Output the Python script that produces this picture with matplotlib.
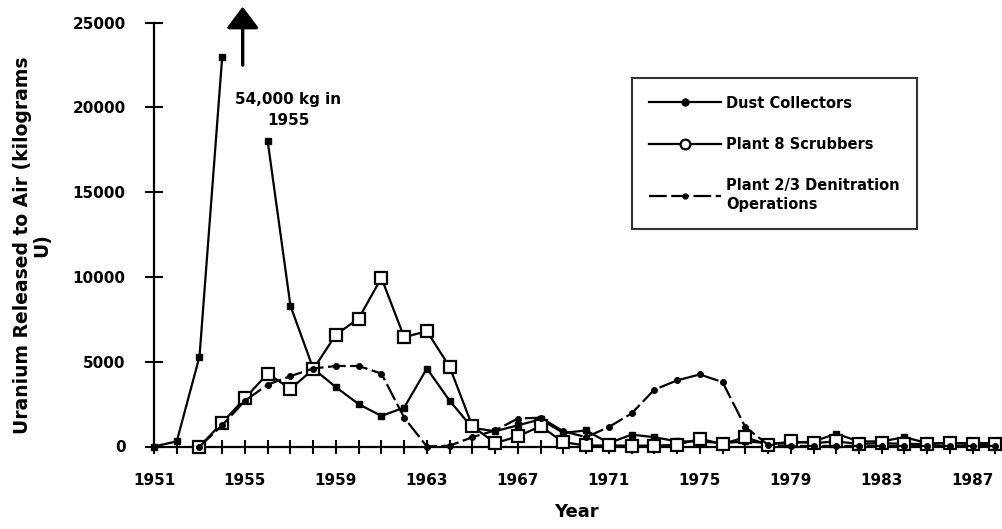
import numpy as np
import matplotlib
matplotlib.use("Agg")
import matplotlib.pyplot as plt
from matplotlib.ticker import FixedLocator
from matplotlib.lines import Line2D

plt.rcParams['font.family'] = ['DejaVu Sans']
plt.rcParams['font.weight'] = 'bold'

years = list(range(1951, 1989))

dust_collectors = [0, 300, 5300, 23000, 54000, 18000, 8300, 4600, 3500, 2500,
                   1800, 2300, 4600, 2700, 1100, 900, 1250, 1600, 800, 950,
                   200, 700, 550, 300, 300, 200, 300, 200, 200, 300,
                   750, 300, 300, 550, 200, 200, 200, 200]

plant8_scrubbers = [np.nan, np.nan, 0, 1400, 2850, 4300, 3400, 4550, 6600, 7550,
                    9950, 6450, 6800, 4700, 1200, 200, 600, 1200, 250, 60,
                    60, 50, 50, 100, 450, 150, 550, 100, 300, 200,
                    300, 150, 200, 150, 150, 200, 150, 150]

plant23_denitration = [np.nan, np.nan, 0, 1250, 2700, 3650, 4150, 4600, 4750, 4750,
                       4300, 1700, 0, 50, 550, 950, 1650, 1700, 900, 550,
                       1150, 1950, 3350, 3900, 4250, 3800, 1150, 100, 30, 30,
                       30, 30, 30, 30, 30, 30, 30, 30]

series_labels = ["Dust Collectors", "Plant 8 Scrubbers",
                 "Plant 2/3 Denitration\nOperations"]

xtick_labels = [1951, 1955, 1959, 1963, 1967, 1971, 1975, 1979, 1983, 1987]
ytick_values = [0, 5000, 10000, 15000, 20000, 25000]

W, H = 1002, 529
fig = plt.figure(figsize=(W / 100, H / 100), dpi=100)
ax_l, ax_r, ax_t, ax_b = 154, 1000, 22.7, 446.5
ax = fig.add_axes([ax_l / W, 1 - ax_b / H, (ax_r - ax_l) / W, (ax_b - ax_t) / H])

ymax = 25000
dust_plot = np.array(dust_collectors, dtype=float)
dust_plot[dust_plot > ymax] = np.nan

ax.plot(years, dust_plot, color='k', lw=1.6, marker='s', ms=5, mfc='k', mec='k',
        clip_on=False, zorder=3)
ax.plot(years, plant8_scrubbers, color='k', lw=1.6, marker='s', ms=8.2, mfc='white',
        mec='k', mew=1.6, clip_on=False, zorder=4)
ax.plot(years, plant23_denitration, color='k', lw=1.6, dashes=(8, 2), marker='o',
        ms=4, mfc='k', mec='k', clip_on=False, zorder=5)

ax.set_xlim(1951, 1988.2)
ax.set_ylim(0, ymax)

for s in ['top', 'right']:
    ax.spines[s].set_visible(False)
for s in ['left', 'bottom']:
    ax.spines[s].set_linewidth(1.6)

ax.xaxis.set_major_locator(FixedLocator(xtick_labels))
ax.xaxis.set_minor_locator(FixedLocator(years))
ax.set_xticklabels([str(v) for v in xtick_labels])
ax.yaxis.set_major_locator(FixedLocator(ytick_values))
ax.set_yticklabels([str(v) for v in ytick_values])

ax.tick_params(axis='x', which='both', direction='inout', length=10, width=1.5, pad=14,
               labelsize=11)
ax.tick_params(axis='y', which='major', direction='inout', length=13, width=1.5, pad=14,
               labelsize=11)
for lab in ax.get_xticklabels() + ax.get_yticklabels():
    lab.set_fontweight('bold')

fig.text(576 / W, 1 - 512 / H, "Year", ha='center', va='center', fontsize=13,
         fontweight='bold')
fig.text(32 / W, 1 - 245 / H, "Uranium Released to Air (kilograms\nU)", ha='center',
         va='center', rotation=90, fontsize=13.5, fontweight='bold',
         multialignment='center', linespacing=1.0)

ax.annotate('', xy=(1954.9, 25950), xytext=(1954.9, 22500), annotation_clip=False,
            arrowprops=dict(arrowstyle='-|>,head_length=0.6,head_width=0.45', lw=2.4,
                            color='k', mutation_scale=22, shrinkA=0, shrinkB=0))
ax.text(1956.9, 19850, "54,000 kg in\n1955", ha='center', va='center', fontsize=11,
        fontweight='bold', linespacing=1.45)

handles = [
    Line2D([], [], color='k', lw=1.6, marker='o', ms=5, mfc='k', mec='k'),
    Line2D([], [], color='k', lw=1.6, marker='o', ms=7, mfc='white', mec='k', mew=1.6),
    Line2D([], [], color='k', lw=1.6, dashes=(8, 2), marker='o', ms=3.5, mfc='k', mec='k'),
]
leg = ax.legend(handles, series_labels, loc='upper left', bbox_to_anchor=(0.565, 0.8695),
                frameon=True, fancybox=False, edgecolor='k', fontsize=10.5,
                handlelength=4.9, handletextpad=0.35, borderpad=1.2, labelspacing=1.8,
                borderaxespad=0)
leg.get_frame().set_linewidth(1.5)
for t in leg.get_texts():
    t.set_fontweight('bold')
    t.set_linespacing(1.3)

fig.savefig("out.png", dpi=100)
